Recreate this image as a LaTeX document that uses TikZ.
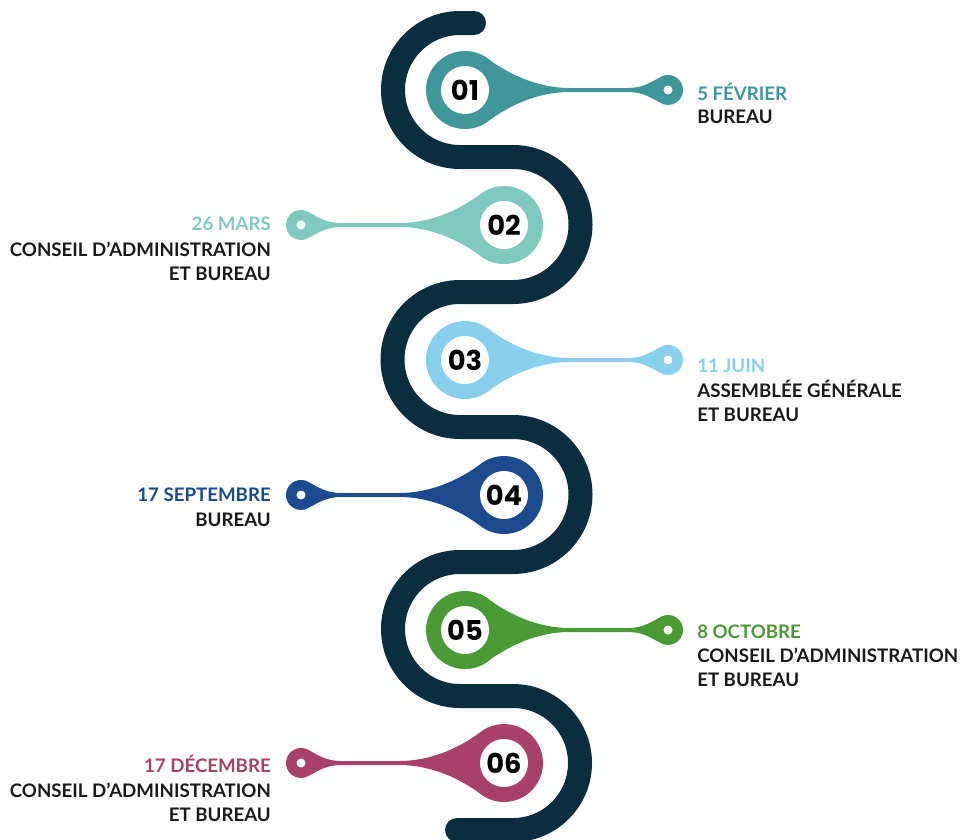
\documentclass[tikz,border=0pt]{standalone}
\usepackage{fontspec}
\setmainfont{Lato}
\newfontfamily\numfont{Poppins}
\usepackage{tikz}
\definecolor{roadnavy}{HTML}{0B2D40}
\definecolor{cteal}{HTML}{40979A}
\definecolor{cmint}{HTML}{80C9BE}
\definecolor{csky}{HTML}{87CFEC}
\definecolor{cblue}{HTML}{1C4A8E}
\definecolor{cgreen}{HTML}{4A9B36}
\definecolor{crose}{HTML}{A84167}
\tikzset{
  num/.style={font=\numfont\bfseries\fontsize{20.5}{20.5}\selectfont, text=black, inner sep=0pt},
  datetxt/.style={font=\bfseries\fontsize{14}{18}\selectfont, inner sep=0pt},
  infotxt/.style={font=\bfseries\fontsize{14}{18}\selectfont, text=black!90, inner sep=0pt}
}
% #1 x, #2 y, #3 side (1 right, -1 left), #4 colour, #5 number
\newcommand{\milestone}[5]{%
  \begin{scope}[shift={(#1,#2)},xscale=#3]
    \fill[#4] (57:39) .. controls (40,18) and (70,2) .. (105,2) -- (163,2)
      .. controls (178,2) and (186,8) .. (194.4,12.3)
      arc[start angle=125,end angle=-125,radius=15]
      .. controls (186,-8) and (178,-2) .. (163,-2) -- (105,-2)
      .. controls (70,-2) and (40,-18) .. (-57:39)
      arc[start angle=-57,end angle=-303,radius=39] -- cycle;
    \fill[white] (0,0) circle[radius=24];
    \fill[white] (203,0) circle[radius=4.5];
  \end{scope}
  \node[num] (n#5) at (#1,#2) {#5};
}

\begin{document}
\begin{tikzpicture}[x=0.75pt,y=0.75pt]
  \useasboundingbox (0,0) rectangle (962,-839);
  % the winding road
  \draw[roadnavy, line width=18pt, line cap=round]
    (474,-23) -- (460,-23) arc[start angle=90,end angle=270,radius=67]
    -- (513,-157) arc[start angle=90,end angle=-90,radius=67.5]
    -- (460,-292) arc[start angle=90,end angle=270,radius=67.5]
    -- (513,-427) arc[start angle=90,end angle=-90,radius=67.5]
    -- (460,-562) arc[start angle=90,end angle=270,radius=67]
    -- (513,-696) arc[start angle=90,end angle=-90,radius=67]
    -- (457,-830);

  \milestone{465}{-90}{1}{cteal}{01}
  \milestone{504}{-225}{-1}{cmint}{02}
  \milestone{465}{-360}{1}{csky}{03}
  \milestone{504}{-495}{-1}{cblue}{04}
  \milestone{465}{-630}{1}{cgreen}{05}
  \milestone{504}{-763}{-1}{crose}{06}

  \node[datetxt, text=cteal, anchor=base west] (d1) at (697,-100) {5 FÉVRIER};
  \node[infotxt, anchor=base west] (d1a) at (697,-123) {BUREAU};

  \node[datetxt, text=cmint, anchor=base east] (d2) at (271,-230) {26 MARS};
  \node[infotxt, anchor=base east] (d2a) at (271,-256) {CONSEIL D’ADMINISTRATION};
  \node[infotxt, anchor=base east] (d2b) at (271,-280) {ET BUREAU};

  \node[datetxt, text=csky, anchor=base west] (d3) at (697,-372) {11 JUIN};
  \node[infotxt, anchor=base west] (d3a) at (697,-397) {ASSEMBLÉE GÉNÉRALE};
  \node[infotxt, anchor=base west] (d3b) at (697,-421) {ET BUREAU};

  \node[datetxt, text=cblue, anchor=base east] (d4) at (271,-501) {17 SEPTEMBRE};
  \node[infotxt, anchor=base east] (d4a) at (271,-526) {BUREAU};

  \node[datetxt, text=cgreen, anchor=base west] (d5) at (697,-638) {8 OCTOBRE};
  \node[infotxt, anchor=base west] (d5a) at (697,-662) {CONSEIL D’ADMINISTRATION};
  \node[infotxt, anchor=base west] (d5b) at (697,-686) {ET BUREAU};

  \node[datetxt, text=crose, anchor=base east] (d6) at (271,-772) {17 DÉCEMBRE};
  \node[infotxt, anchor=base east] (d6a) at (271,-797) {CONSEIL D’ADMINISTRATION};
  \node[infotxt, anchor=base east] (d6b) at (271,-821) {ET BUREAU};
\end{tikzpicture}
\end{document}
